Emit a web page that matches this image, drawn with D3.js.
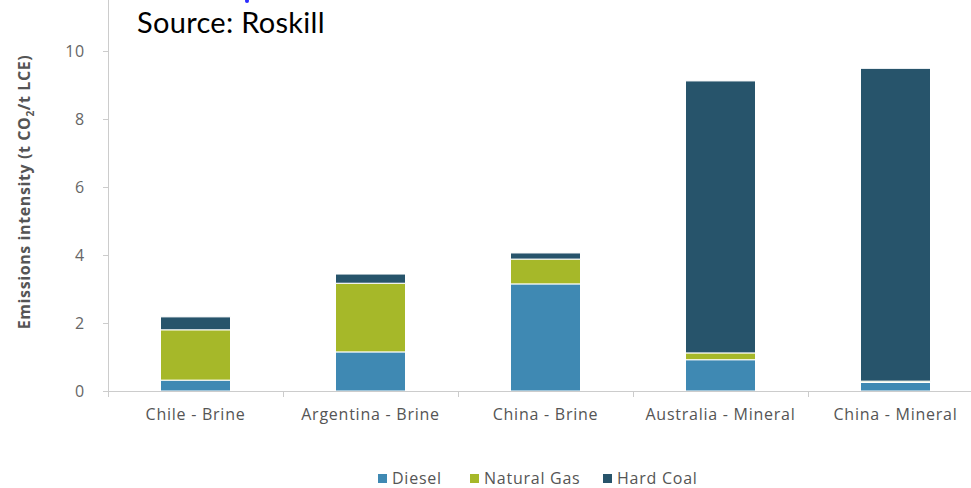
<!DOCTYPE html>
<html>
<head>
<meta charset="utf-8">
<script src="https://cdn.jsdelivr.net/npm/d3@7"></script>
<style>
  html, body { margin: 0; padding: 0; background: #fff; }
  svg { display: block; font-family: "Open Sans", sans-serif; }
</style>
</head>
<body>
<svg id="chart" width="971" height="488"></svg>
<script>
/* ---------- data ---------- */
const categories = ["Chile - Brine", "Argentina - Brine", "China - Brine", "Australia - Mineral", "China - Mineral"];
const seriesNames = ["Diesel", "Natural Gas", "Hard Coal"];
const diesel     = [0.32, 1.15, 3.15, 0.92, 0.25];
const naturalGas = [1.48, 2.02, 0.73, 0.20, 0.04];
const hardCoal   = [0.38, 0.27, 0.18, 8.00, 9.20];
const yTicks = [0, 2, 4, 6, 8, 10];

const COLORS = ["#3f89b3", "#a6b829", "#27546b"];
const LABEL_SIZE = 16;
const LABEL_SPACING = 0.75;

/* ---------- layout ---------- */
const svg = d3.select("#chart");
const plotLeft = 108, plotRight = 983, plotTop = 51, plotBottom = 391;

const x = d3.scaleBand()
    .domain(categories)
    .range([plotLeft, plotRight])
    .paddingInner(0.6)
    .paddingOuter(0.3);

const y = d3.scaleLinear()
    .domain([0, 10])
    .range([plotBottom, plotTop]);

const rows = categories.map((c, i) => ({
    cat: c, "Diesel": diesel[i], "Natural Gas": naturalGas[i], "Hard Coal": hardCoal[i]
}));
const stacked = d3.stack().keys(seriesNames)(rows);

/* ---------- y axis ---------- */
svg.append("line")
    .attr("x1", plotLeft + 0.5).attr("x2", plotLeft + 0.5)
    .attr("y1", 0).attr("y2", plotBottom)
    .attr("stroke", "#cccccc").attr("stroke-width", 1);

const yAxis = svg.append("g")
    .attr("transform", `translate(${plotLeft},0)`)
    .call(d3.axisLeft(y).tickValues(yTicks).tickSize(5).tickPadding(18));
yAxis.select(".domain").remove();
yAxis.selectAll(".tick line").attr("stroke", "#cccccc");
yAxis.selectAll(".tick text")
    .attr("font-family", "Open Sans, sans-serif")
    .attr("font-size", LABEL_SIZE)
    .attr("letter-spacing", LABEL_SPACING)
    .attr("fill", "#666666");

const yTitle = svg.append("text")
    .attr("transform", "translate(30,192) rotate(-90)")
    .attr("text-anchor", "middle")
    .attr("font-size", 16)
    .attr("letter-spacing", 0.6)
    .attr("font-weight", 700)
    .attr("fill", "#555555");
yTitle.append("tspan").text("Emissions intensity (t CO");
yTitle.append("tspan").attr("font-size", 10).attr("dy", 4).text("2");
yTitle.append("tspan").attr("dy", -4).text("/t LCE)");

/* ---------- bars ---------- */
svg.append("g")
    .selectAll("g")
    .data(stacked)
    .join("g")
    .attr("fill", (d, i) => COLORS[i])
    .selectAll("rect")
    .data(d => d)
    .join("rect")
    .attr("x", d => x(d.data.cat))
    .attr("width", x.bandwidth())
    .attr("y", d => y(d[1]))
    .attr("height", d => Math.max(0, y(d[0]) - y(d[1])))
    .attr("stroke", "#ffffff")
    .attr("stroke-width", 1);

/* ---------- x axis ---------- */
const xAxis = svg.append("g")
    .attr("transform", `translate(0,${plotBottom})`)
    .call(d3.axisBottom(x).tickSize(0).tickPadding(18));
xAxis.select(".domain").remove();
xAxis.selectAll(".tick text")
    .attr("font-family", "Open Sans, sans-serif")
    .attr("font-size", LABEL_SIZE)
    .attr("letter-spacing", LABEL_SPACING)
    .attr("fill", "#555555");

svg.append("line")
    .attr("x1", plotLeft - 5).attr("x2", plotRight)
    .attr("y1", plotBottom + 0.5).attr("y2", plotBottom + 0.5)
    .attr("stroke", "#cccccc");

// category separators
svg.append("g")
    .selectAll("line")
    .data(categories)
    .join("line")
    .attr("x1", d => x(d) - x.step() * 0.3 + 0.5)
    .attr("x2", d => x(d) - x.step() * 0.3 + 0.5)
    .attr("y1", plotBottom).attr("y2", plotBottom + 6)
    .attr("stroke", "#cccccc");

/* ---------- legend ---------- */
const legendX = [378, 470, 603];
const legend = svg.append("g")
    .selectAll("g")
    .data(seriesNames)
    .join("g")
    .attr("transform", (d, i) => `translate(${legendX[i]},474)`);
legend.append("rect")
    .attr("width", 9).attr("height", 9)
    .attr("fill", (d, i) => COLORS[i]);
legend.append("text")
    .attr("x", 14).attr("y", 10)
    .attr("font-size", LABEL_SIZE)
    .attr("letter-spacing", LABEL_SPACING)
    .attr("fill", "#555555")
    .text(d => d);

/* ---------- source note ---------- */
svg.append("circle")
    .attr("cx", 247).attr("cy", 1).attr("r", 2)
    .attr("fill", "#2b2bff");
svg.append("text")
    .attr("x", 137).attr("y", 33)
    .attr("font-family", "Lato, 'Noto Sans', sans-serif")
    .attr("font-size", 29)
    .attr("letter-spacing", 0.3)
    .attr("fill", "#000000")
    .text("Source: Roskill");
</script>
</body>
</html>
